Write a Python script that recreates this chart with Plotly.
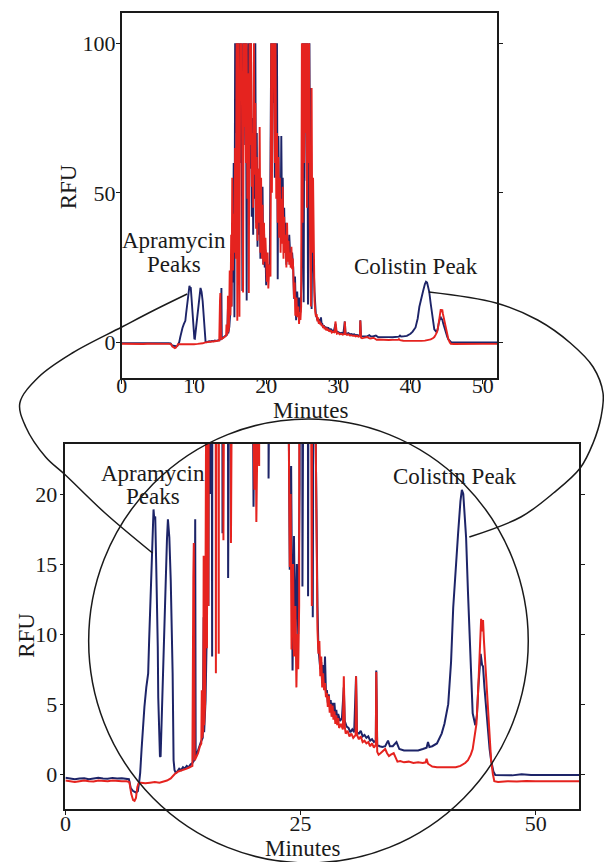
import plotly.graph_objects as go

# ---- chromatogram readings (minutes, RFU) ----
blue_minutes = [
    0.0, 0.5, 1.0, 1.5, 2.0, 2.5, 3.0, 3.5, 4.0, 4.5,
    5.0, 5.5, 6.0, 6.5, 6.75, 6.95, 7.2, 7.5, 7.7, 7.85,
    7.95, 8.1, 8.25, 8.4, 8.6, 8.8, 8.9, 9.0, 9.1, 9.25,
    9.37, 9.45, 9.55, 9.65, 9.75, 9.82, 9.87, 9.93, 10.05, 10.12,
    10.2, 10.35, 10.45, 10.6, 10.7, 10.8, 10.9, 10.97, 11.05, 11.2,
    11.3, 11.4, 11.5, 11.6, 11.76, 11.9, 12.1, 12.3, 12.5, 12.7,
    12.9, 13.1, 13.3, 13.5, 13.7, 13.8, 13.85, 14.0, 14.2, 14.4,
    14.6, 14.7, 14.75, 14.9, 15.0, 15.1, 15.2, 15.3, 15.4, 15.5,
    15.6, 15.7, 15.8, 15.9, 16.0, 16.1, 16.2, 16.3, 16.4, 16.5,
    16.6, 16.7, 16.8, 16.9, 17.0, 17.1, 17.2, 17.3, 17.4, 17.5,
    17.6, 17.7, 17.8, 17.9, 18.0, 18.1, 18.2, 18.3, 18.4, 18.5,
    18.6, 18.7, 18.8, 18.9, 19.0, 19.1, 19.2, 19.3, 19.4, 19.5,
    19.6, 19.7, 19.8, 19.9, 20.0, 20.1, 20.2, 20.35, 20.5, 20.6,
    20.7, 20.8, 20.9, 21.0, 21.1, 21.2, 21.3, 21.4, 21.5, 21.6,
    21.7, 21.8, 21.9, 22.0, 22.1, 22.2, 22.3, 22.4, 22.5, 22.6,
    22.7, 22.8, 22.9, 23.0, 23.2, 23.4, 23.6, 23.75, 23.85, 24.0,
    24.15, 24.3, 24.45, 24.6, 24.75, 24.9, 25.0, 25.1, 25.2, 25.3,
    25.4, 25.5, 25.6, 25.7, 25.8, 25.9, 26.0, 26.1, 26.2, 26.3,
    26.4, 26.5, 26.6, 26.7, 26.8, 26.9, 27.0, 27.1, 27.2, 27.3,
    27.4, 27.5, 27.6, 27.7, 27.8, 27.9, 28.0, 28.1, 28.2, 28.3,
    28.4, 28.5, 28.6, 28.7, 28.8, 28.9, 29.0, 29.2, 29.4, 29.6,
    29.7, 29.9, 30.1, 30.3, 30.5, 30.7, 30.9, 31.0, 31.2, 31.4,
    31.6, 31.8, 32.0, 32.2, 32.4, 32.6, 32.8, 33.0, 33.05, 33.15,
    33.4, 33.7, 34.0, 34.3, 34.5, 34.8, 35.2, 35.5, 36.0, 36.5,
    37.0, 37.5, 38.0, 38.4, 38.55, 38.7, 39.0, 39.5, 40.0, 40.3,
    40.7, 41.0, 41.23, 41.5, 41.75, 42.0, 42.15, 42.3, 42.45, 42.6,
    42.8, 43.0, 43.15, 43.3, 43.58, 43.75, 43.9, 44.05, 44.15, 44.3,
    44.4, 44.55, 44.7, 44.9, 45.1, 45.26, 45.5, 45.7, 46.5, 47.5,
    48.5, 49.5, 52.0, 55.0,
]
blue_rfu = [
    -0.25, -0.3, -0.35, -0.3, -0.28, -0.35, -0.3, -0.25, -0.3, -0.32,
    -0.26, -0.3, -0.28, -0.3, -0.35, -1.0, -1.2, -1.3, -1.2, -0.5,
    0.1, 1.8, 3.5, 4.8, 6.2, 7.2, 9.5, 11.5, 14.8, 17.5,
    18.9, 18.2, 18.4, 15.1, 12.0, 9.1, 5.5, 3.9, 1.3, 1.25,
    3.2, 6.5, 9.6, 12.5, 14.8, 16.8, 18.2, 17.6, 16.9, 13.8,
    10.5, 7.2, 1.0, 0.3, 0.07, 0.2, 0.4, 0.3, 0.5, 0.4,
    0.6, 0.5, 0.7, 0.8, 1.0, 18.2, 1.2, 1.5, 2.0, 2.3,
    2.6, 11.2, 3.0, 5.3, 9, 22, 12, 40, 20, 60,
    8.4, 100, 70, 100, 55, 100, 75, 100, 60, 100,
    80, 17.2, 100, 66, 100, 83, 100, 14, 90, 100,
    72, 100, 58, 100, 42, 75, 36, 62, 48, 100,
    40, 70, 32, 58, 36, 50, 28, 45, 30, 52,
    26, 38, 25, 31, 19.1, 28, 21, 26, 24, 60,
    100, 70, 100, 80, 100, 55, 100, 65, 100, 21.1,
    69, 45, 52, 38, 69, 41, 55, 34, 45, 30,
    40, 26, 34, 28, 36, 26, 30, 25, 14.6, 22,
    7.4, 17, 9, 15, 10, 20.7, 43, 100, 13.4, 100,
    87, 100, 54, 100, 12.7, 60, 100, 45, 85, 11.2,
    40, 28, 24.5, 17, 12, 9, 8.4, 7.5, 8.0, 6.5,
    7.8, 6.2, 8.4, 5.8, 6.0, 5.1, 5.7, 4.9, 5.3, 4.6,
    5.1, 4.3, 5.1, 4.2, 4.6, 4.0, 4.3, 3.8, 4.0, 6.2,
    3.8, 3.4, 3.3, 3.0, 3.2, 3.0, 7.0, 3.0, 2.9, 3.1,
    2.7, 2.8, 2.6, 2.7, 2.4, 2.5, 2.3, 2.4, 7.4, 2.1,
    2.0, 1.95, 2.0, 2.4, 2.0, 2.0, 2.3, 1.8, 1.7, 1.7,
    1.75, 1.7, 1.8, 1.9, 2.3, 1.95, 2.0, 2.2, 2.9, 3.6,
    5.0, 8.0, 11.9, 15.0, 17.2, 19.5, 20.3, 20.0, 18.5, 16.9,
    13.0, 9.6, 6.5, 4.35, 3.5, 4.2, 6.2, 8.0, 8.6, 7.8,
    7.7, 6.2, 4.8, 3.0, 1.8, 1.0, 0.2, -0.05, -0.05, -0.08,
    0.0, -0.05, -0.05, -0.05,
]

red_minutes = [
    0.0, 0.5, 1.0, 1.5, 2.0, 2.5, 3.0, 3.5, 4.0, 4.5,
    5.0, 5.5, 6.0, 6.5, 6.8, 7.0, 7.2, 7.35, 7.5, 7.65,
    7.8, 8.0, 8.5, 9.0, 9.5, 10.0, 10.5, 10.8, 11.2, 11.6,
    12.0, 12.5, 12.9, 13.2, 13.5, 13.6, 13.65, 13.75, 13.9, 14.1,
    14.3, 14.45, 14.5, 14.55, 14.65, 14.7, 14.75, 14.85, 14.95, 15.05,
    15.15, 15.2, 15.3, 15.4, 15.5, 15.6, 15.7, 15.8, 15.9, 16.0,
    16.05, 16.1, 16.2, 16.3, 16.4, 16.5, 16.6, 16.7, 16.8, 16.9,
    17.0, 17.1, 17.2, 17.3, 17.4, 17.5, 17.6, 17.7, 17.8, 17.9,
    18.0, 18.1, 18.2, 18.3, 18.4, 18.5, 18.6, 18.7, 18.8, 18.9,
    19.0, 19.1, 19.2, 19.3, 19.4, 19.5, 19.6, 19.7, 19.8, 19.9,
    20.0, 20.1, 20.2, 20.3, 20.45, 20.6, 20.7, 20.8, 20.9, 21.0,
    21.1, 21.2, 21.3, 21.4, 21.5, 21.6, 21.7, 21.8, 21.9, 22.0,
    22.1, 22.2, 22.3, 22.4, 22.5, 22.6, 22.7, 22.8, 22.9, 23.0,
    23.1, 23.2, 23.3, 23.4, 23.5, 23.6, 23.7, 23.86, 23.95, 24.04,
    24.2, 24.3, 24.45, 24.56, 24.65, 24.75, 24.85, 24.95, 25.05, 25.15,
    25.25, 25.35, 25.45, 25.55, 25.65, 25.75, 25.85, 25.95, 26.05, 26.2,
    26.3, 26.4, 26.5, 26.6, 26.7, 26.8, 26.9, 27.0, 27.1, 27.2,
    27.3, 27.4, 27.5, 27.6, 27.7, 27.8, 27.9, 28.0, 28.1, 28.2,
    28.3, 28.4, 28.5, 28.6, 28.7, 28.8, 28.9, 29.0, 29.1, 29.3,
    29.5, 29.6, 29.7, 29.8, 30.0, 30.2, 30.4, 30.6, 30.85, 30.9,
    31.0, 31.2, 31.4, 31.6, 31.8, 32.0, 32.2, 32.4, 32.6, 32.8,
    33.0, 33.05, 33.15, 33.3, 33.5, 33.7, 34.0, 34.2, 34.4, 34.6,
    34.9, 35.1, 35.3, 35.6, 36.0, 36.5, 37.0, 37.5, 38.0, 38.3,
    38.4, 38.55, 39.0, 39.5, 40.0, 40.5, 41.0, 41.5, 42.0, 42.5,
    42.8, 43.1, 43.3, 43.5, 43.7, 43.85, 44.0, 44.1, 44.2, 44.3,
    44.4, 44.5, 44.6, 44.75, 44.9, 45.05, 45.26, 45.45, 45.6, 46.0,
    47.0, 48.0, 49.0, 50.0, 52.0, 55.0,
]
red_rfu = [
    -0.45, -0.5, -0.55, -0.5, -0.45, -0.5, -0.52, -0.45, -0.5, -0.5,
    -0.45, -0.5, -0.5, -0.5, -0.55, -1.4, -1.85, -1.9, -1.7, -0.9,
    -0.6, -0.6, -0.65, -0.6, -0.55, -0.6, -0.5, -0.45, -0.3, 0.0,
    0.2, 0.3, 0.4, 0.5, 0.6, 14.0, 16.5, 1.0, 1.2, 1.5,
    2.0, 2.2, 6.0, 2.6, 3.2, 15.6, 3.5, 5.0, 24, 9,
    36, 12, 55, 24, 43, 30, 65, 28, 100, 7.2,
    50, 100, 62, 8.6, 100, 85, 100, 55, 16.7, 100,
    72, 100, 60, 100, 48, 90, 16.5, 100, 66, 100,
    52, 70, 45, 100, 56, 80, 38, 62, 34, 58,
    40, 72, 30, 55, 28, 46, 26, 40, 27, 35,
    24, 20.3, 30, 18.0, 26, 22, 100, 50, 100, 85,
    100, 60, 100, 48, 70, 40, 62, 35, 55, 30,
    48, 33, 52, 28, 42, 30, 36, 25, 40, 27,
    34, 26, 30, 25, 32, 24.5, 28, 14.8, 20, 8.9,
    15, 8.4, 12, 6.2, 10, 7.5, 12, 100, 40, 100,
    60, 100, 70, 100, 45, 100, 60, 100, 40, 12,
    85, 30, 55, 25, 14, 10.3, 8.6, 9.5, 7.0, 8.4,
    6.2, 7.2, 6.0, 6.5, 5.5, 5.8, 4.8, 5.6, 4.4, 5.0,
    4.1, 4.9, 3.9, 4.5, 3.6, 4.2, 3.5, 4.0, 3.3, 3.6,
    3.2, 7.0, 3.4, 2.9, 3.1, 2.7, 2.9, 2.6, 2.8, 7.0,
    2.8, 2.5, 2.7, 2.3, 2.4, 2.2, 2.3, 2.0, 2.2, 1.9,
    2.1, 7.3, 1.6, 1.4, 1.5, 1.6, 1.8, 1.5, 1.3, 1.4,
    1.5, 1.2, 0.9, 0.95, 0.85, 0.9, 0.8, 0.85, 0.8, 0.85,
    1.1, 0.75, 0.55, 0.5, 0.5, 0.45, 0.5, 0.5, 0.6, 0.8,
    1.0, 1.4, 1.8, 2.6, 3.6, 5.5, 8.6, 10.5, 11.1, 10.2,
    11.0, 9.5, 8.4, 6.5, 4.8, 3.0, 1.0, 0.0, -0.5, -0.55,
    -0.5, -0.52, -0.48, -0.5, -0.5, -0.5,
]

assert len(blue_minutes) == len(blue_rfu)
assert len(red_minutes) == len(red_rfu)

full_xticks = [0, 10, 20, 30, 40, 50]
full_yticks = [0, 50, 100]
zoom_xticks = [0, 25, 50]
zoom_yticks = [0, 5, 10, 15, 20]

# ---- page geometry (pixels) ----
W, H = 604, 862
SERIF = "Liberation Serif"
INK = "#1a1a1a"
NAVY = "#1d2468"
RED = "#e5231f"


def xdom(left, right):
    return [left / W, right / W]


def ydom(top, bottom):
    return [1 - bottom / H, 1 - top / H]


fig = go.Figure()

# full run (top) and zoomed baseline view (bottom) share the same readings
for xa, ya, width in (("x", "y", 1.9), ("x2", "y2", 2.0)):
    fig.add_trace(go.Scatter(x=blue_minutes, y=blue_rfu, mode="lines",
                             line=dict(color=NAVY, width=width),
                             xaxis=xa, yaxis=ya, hoverinfo="skip"))
    fig.add_trace(go.Scatter(x=red_minutes, y=red_rfu, mode="lines",
                             line=dict(color=RED, width=width),
                             xaxis=xa, yaxis=ya, hoverinfo="skip"))

# leader curves joining the two views (page pixel space on x3/y3)
left_leader_x = [183, 150, 117, 67, 33, 14, 20, 40, 60, 100, 148]
left_leader_y = [294, 310, 327, 353, 377, 403, 427, 457, 475, 513, 553]
right_leader_x = [427, 495, 537, 570, 593, 603, 601, 593, 580, 553, 520, 468]
right_leader_y = [292, 303, 320, 343, 367, 393, 417, 443, 468, 493, 517, 537]
for lx, ly in ((left_leader_x, left_leader_y), (right_leader_x, right_leader_y)):
    fig.add_trace(go.Scatter(x=lx, y=ly, mode="lines",
                             line=dict(color=INK, width=1.5, shape="spline", smoothing=1.0),
                             xaxis="x3", yaxis="y3", hoverinfo="skip"))

fig.add_shape(type="circle", xref="x3", yref="y3",
              x0=83.5, x1=527.5, y0=419, y1=863,
              line=dict(color=INK, width=1.5))

axis_common = dict(showline=True, linecolor=INK, linewidth=1.7, showgrid=False,
                   zeroline=False, ticks="outside", ticklen=4, tickwidth=1.2,
                   tickcolor=INK, tickfont=dict(family=SERIF, size=22, color=INK))

fig.update_layout(
    width=W, height=H,
    margin=dict(l=0, r=0, t=0, b=0),
    paper_bgcolor="white", plot_bgcolor="rgba(0,0,0,0)",
    showlegend=False,
    xaxis=dict(domain=xdom(117, 496), range=[0, 52], tickvals=full_xticks,
               anchor="y", mirror=True, ticklabelstandoff=-17, **axis_common),
    yaxis=dict(domain=ydom(13, 378), range=[-11.9, 110.1], tickvals=full_yticks,
               anchor="x", mirror="ticks", ticklabelstandoff=-4, **axis_common),
    xaxis2=dict(domain=xdom(60, 579), range=[0, 54.63], tickvals=zoom_xticks,
                anchor="y2", mirror=True, ticklabelstandoff=-10, **axis_common),
    yaxis2=dict(domain=ydom(444, 809), range=[-2.48, 23.57], tickvals=zoom_yticks,
                anchor="x2", mirror="ticks", ticklabelstandoff=-2, **axis_common),
    xaxis3=dict(domain=[0, 1], range=[0, W], visible=False, anchor="y3", fixedrange=True),
    yaxis3=dict(domain=[0, 1], range=[H, 0], visible=False, anchor="x3", fixedrange=True),
)

labels = [
    ("Apramycin", 170, 240, 0),
    ("Peaks", 170, 264, 0),
    ("Colistin Peak", 414, 266, 0),
    ("RFU", 63, 187, -90),
    ("Minutes", 308, 410, 0),
    ("Apramycin", 148, 473, 0),
    ("Peaks", 148, 496, 0),
    ("Colistin Peak", 453, 476, 0),
    ("RFU", 20, 635, -90),
    ("Minutes", 299, 848, 0),
]
for text, px, py, angle in labels:
    fig.add_annotation(text=text, x=px, y=py, xref="x3", yref="y3",
                       showarrow=False, xanchor="center", yanchor="middle",
                       textangle=angle,
                       font=dict(family=SERIF, size=23, color=INK))

fig.write_html("out.html", config={"displayModeBar": False})
